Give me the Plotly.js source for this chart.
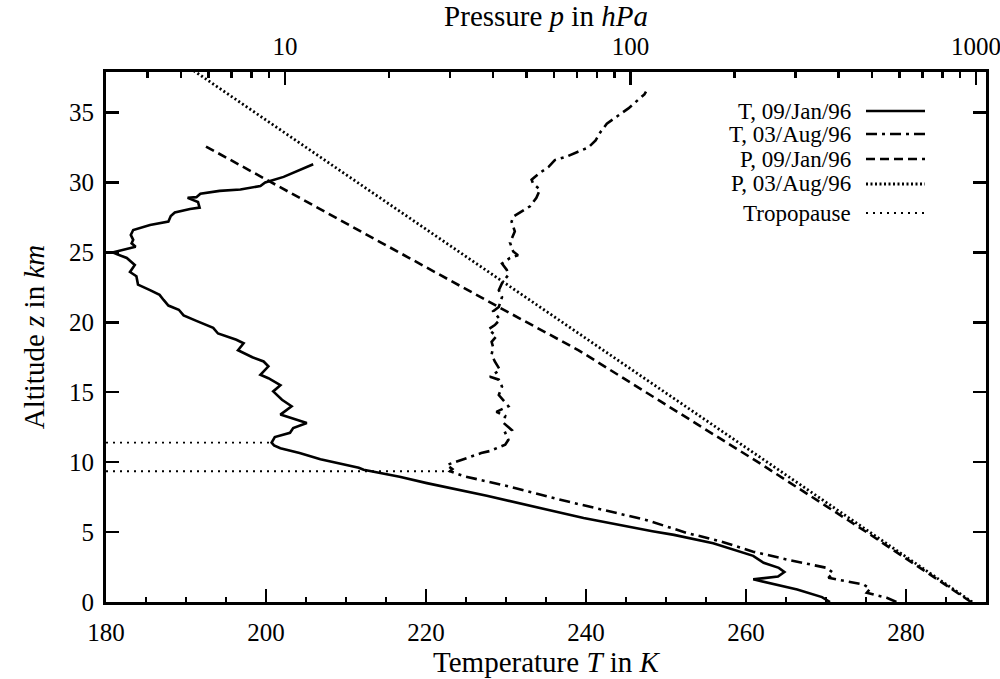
<!DOCTYPE html>
<html>
<head>
<meta charset="utf-8">
<script src="https://cdn.plot.ly/plotly-3.0.1.min.js"></script>
<style>html,body{margin:0;padding:0;background:#fff;}#chart{width:1000px;height:679px;}</style>
</head>
<body>
<div id="chart"></div>
<script>
// ---- Data ----
// Temperature profile 09/Jan/96: altitude (km) and temperature (K)
const tJanZ = [0.0,0.35,0.9,1.45,1.62,1.82,2.15,2.44,2.8,3.3,4.2,4.8,5.06,6.0,6.85,7.6,8.5,8.95,9.46,9.6,10.2,10.65,11.0,11.2,11.4,11.8,12.1,12.44,12.8,13.4,14.0,14.46,15.06,15.5,16.0,16.25,16.85,17.2,17.5,18.0,18.5,18.75,19.2,19.6,20.1,20.5,20.9,21.2,21.6,21.96,22.3,22.7,23.3,23.6,24.1,24.6,25.0,25.4,25.65,25.9,26.25,26.6,26.96,27.2,27.6,27.85,28.1,28.2,28.6,28.9,28.95,29.2,29.4,29.5,29.75,30.0,30.4,30.9,31.3];
const tJanT = [270.5,269.5,266.4,262.4,260.9,264.0,264.8,264.1,262.2,260.9,255.9,251.0,248.3,239.7,233.4,227.6,220.1,216.7,212.2,211.6,206.8,204.2,201.8,201.0,200.7,201.1,203.0,203.4,205.1,201.8,203.2,202.0,200.9,201.8,200.3,199.3,200.3,199.7,198.3,196.5,197.2,196.3,194.0,193.4,191.3,189.7,189.1,187.8,187.2,186.7,185.5,184.0,183.8,183.0,183.6,182.6,180.8,183.7,183.2,183.4,183.1,183.4,185.5,187.8,188.1,188.6,190.5,191.7,191.5,190.2,191.3,191.8,194.2,196.8,199.3,199.9,202.2,204.3,205.9];

// Temperature profile 03/Aug/96
const tAugZ = [0.0,0.3,0.66,0.94,1.25,1.73,2.08,2.44,3.04,3.6,4.35,4.94,5.85,7.2,8.3,9.0,9.35,9.5,9.8,10.2,10.65,10.8,11.25,11.6,12.1,12.3,12.8,13.3,13.6,14.0,14.5,14.8,15.4,15.9,16.1,16.6,17.2,17.7,18.2,18.6,19.0,19.5,19.8,20.2,20.8,21.1,21.8,22.3,22.8,23.4,23.75,24.2,24.6,24.8,25.06,25.7,26.5,27.2,27.55,27.9,28.3,28.9,29.5,29.9,30.2,30.7,31.1,31.6,31.85,32.2,32.5,33.0,33.6,34.2,34.8,35.3,35.9,36.3,36.5];
const tAugT = [278.8,277.6,275.1,275.5,274.7,270.3,270.9,270.1,265.1,260.9,256.75,252.6,247.6,237.6,230.1,224.7,223.0,223.3,222.6,224.5,226.9,228.0,229.9,230.3,229.9,230.7,229.7,229.9,228.8,230.3,229.5,229.1,229.5,229.1,228.0,229.25,228.6,228.2,228.4,228.2,228.8,227.8,228.6,229.25,228.4,229.1,229.5,229.1,229.5,230.3,230.1,229.5,230.5,231.5,230.9,230.5,231.1,230.7,230.9,231.9,233.0,233.8,234.25,233.4,233.2,234.25,235.3,236.1,237.6,239.0,240.3,241.2,241.8,242.6,244.0,245.3,246.5,247.3,247.5];

// Pressure profiles: altitude (km) and pressure (hPa)
const pJanZ = [0,5,10,14,18,21,24,28,30,32.7];
const pJanP = [968,482,234,129,70.8,42.2,25.4,12.9,9.16,5.78];
const pAugZ = [0,5,10,15,20,25,30,35,38.5];
const pAugP = [975,493,249,126,63.5,32.1,16.2,8.2,5.08];

// Tropopause heights (km) and the temperature where each meets its profile (K)
const tropoZ = [11.4, 9.35];
const tropoT = [200.7, 223.0];

// Legend labels and tick labels
const legendNames = ["T, 09/Jan/96", "T, 03/Aug/96", "P, 09/Jan/96", "P, 03/Aug/96", "Tropopause"];
const yTicks = [0,5,10,15,20,25,30,35];
const xTicks = [180,200,220,240,260,280];
const pTicks = [10,100,1000];
const pTickText = ['10','100','1000'];
const pMinorTicks = [4,5,6,7,8,9,20,30,40,50,60,70,80,90,200,300,400,500,600,700,800,900];

// ---- Styles / layout ----
const FONT = "Liberation Serif, Times New Roman, serif";
const styles = [
  {width:2.6, dash:"solid"},
  {width:2.6, dash:"11px,5px,3px,5px"},
  {width:2.6, dash:"9px,5px"},
  {width:2.8, dash:"2px,2.5px"},
  {width:1.8, dash:"2px,5px"}
];
const W = 1000, H = 679;
const M = {l:106, r:14, t:72, b:77};
const px2x = x => (x - M.l) / (W - M.l - M.r);
const px2y = y => (H - M.b - y) / (H - M.t - M.b);

const traces = [
  {x:tJanT, y:tJanZ, xaxis:'x', yaxis:'y', mode:'lines', line:{color:'#000', width:styles[0].width, dash:styles[0].dash}, name:legendNames[0]},
  {x:tAugT, y:tAugZ, xaxis:'x', yaxis:'y', mode:'lines', line:{color:'#000', width:styles[1].width, dash:styles[1].dash}, name:legendNames[1]},
  {x:pJanP, y:pJanZ, xaxis:'x2', yaxis:'y', mode:'lines', line:{color:'#000', width:styles[2].width, dash:styles[2].dash}, name:legendNames[2]},
  {x:pAugP, y:pAugZ, xaxis:'x2', yaxis:'y', mode:'lines', line:{color:'#000', width:styles[3].width, dash:styles[3].dash}, name:legendNames[3]}
];
tropoZ.forEach((z, i) => {
  traces.push({x:[180, tropoT[i]], y:[z, z], xaxis:'x', yaxis:'y', mode:'lines',
    line:{color:'#000', width:styles[4].width, dash:styles[4].dash}, name:legendNames[4]});
});

// manual gnuplot-style legend (text left, sample right)
const legY = [111, 134, 159, 184, 213];
const annotations = [], shapes = [];
legendNames.forEach((n, i) => {
  annotations.push({xref:'paper', yref:'paper', x:px2x(853), y:px2y(legY[i]), xanchor:'right', yanchor:'middle',
    text:n, showarrow:false, font:{family:FONT, size:23, color:'#000'}});
  shapes.push({type:'line', xref:'paper', yref:'paper', x0:px2x(866), x1:px2x(925), y0:px2y(legY[i]), y1:px2y(legY[i]),
    line:{color:'#000', width:styles[i].width, dash:styles[i].dash}});
});

const layout = {
  width:W, height:H, margin:M, showlegend:false,
  paper_bgcolor:'#fff', plot_bgcolor:'#fff',
  font:{family:FONT, color:'#000', size:25},
  xaxis:{range:[180,290], tickvals:xTicks, ticks:'inside', ticklen:13, tickwidth:2.5, tickcolor:'#000',
    minor:{dtick:5, tick0:180, ticks:'inside', ticklen:5, tickwidth:2.5, tickcolor:'#000'},
    showline:true, linewidth:3, linecolor:'#000', mirror:false, showgrid:false, zeroline:false,
    tickfont:{family:FONT, size:25}, ticklabelstandoff:6,
    title:{text:'Temperature <i>T</i> in <i>K</i>', font:{family:FONT, size:29}, standoff:6}},
  xaxis2:{type:'log', overlaying:'x', side:'top', range:[0.482, 3.029], tickvals:pTicks, ticktext:pTickText,
    ticks:'inside', ticklen:13, tickwidth:2.5, tickcolor:'#000', ticklabeloverflow:'allow',
    minor:{tickvals:pMinorTicks, ticks:'inside', ticklen:6, tickwidth:2.5, tickcolor:'#000'},
    showline:true, linewidth:3, linecolor:'#000', showgrid:false, zeroline:false,
    tickfont:{family:FONT, size:25}, ticklabelstandoff:4,
    title:{text:'Pressure <i>p</i> in <i>hPa</i>', font:{family:FONT, size:29}, standoff:4}},
  yaxis:{range:[0,37.9], tickvals:yTicks, ticks:'inside', ticklen:13, tickwidth:2.5, tickcolor:'#000',
    showline:true, linewidth:3, linecolor:'#000', mirror:'ticks', showgrid:false, zeroline:false,
    tickfont:{family:FONT, size:25}, ticklabelstandoff:4,
    title:{text:'Altitude <i>z</i> in <i>km</i>', font:{family:FONT, size:29}, standoff:16}},
  annotations:annotations, shapes:shapes
};
Plotly.newPlot('chart', traces, layout, {staticPlot:true, displayModeBar:false});
</script>
</body>
</html>
